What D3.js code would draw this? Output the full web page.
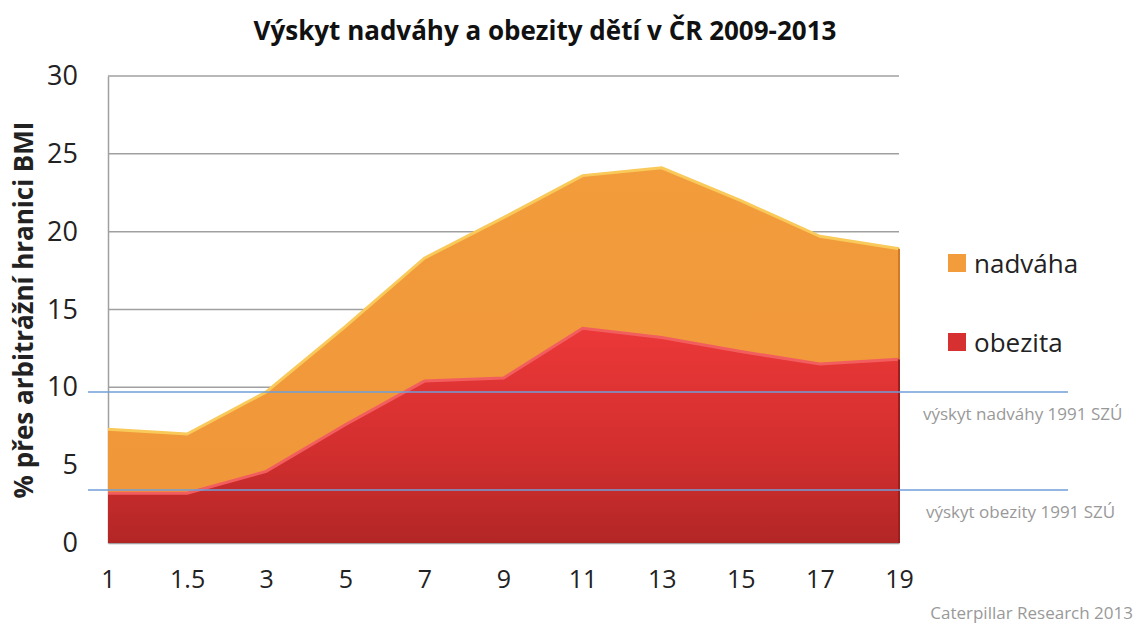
<!DOCTYPE html>
<html>
<head>
<meta charset="utf-8">
<script src="https://cdn.jsdelivr.net/npm/d3@7"></script>
<style>
  body { margin: 0; background: #fff; }
  svg { font-family: "Open Sans", "Noto Sans", sans-serif; }
</style>
</head>
<body>
<div id="chart"></div>
<script>
var w = 1139;
var h = 624;

// data
var ages = ['1', '1.5', '3', '5', '7', '9', '11', '13', '15', '17', '19'];
var nadvaha = [7.3, 7.0, 9.7, 13.9, 18.3, 20.9, 23.6, 24.1, 22.0, 19.7, 18.9];
var obezita = [3.2, 3.2, 4.6, 7.6, 10.4, 10.6, 13.8, 13.2, 12.3, 11.5, 11.8];
var yTicks = [0, 5, 10, 15, 20, 25, 30];
var refNames = ['výskyt nadváhy 1991 SZÚ', 'výskyt obezity 1991 SZÚ'];
var refValues = [9.7, 3.4];
var seriesNames = ['nadváha', 'obezita'];

var pLeft = 108, pRight = 899, pTop = 76, pBottom = 543;

var svg = d3.select('#chart')
    .append('svg')
    .attr('width', w)
    .attr('height', h);

var defs = svg.append('defs');
var gOr = defs.append('linearGradient').attr('id', 'gOr').attr('x1', 0).attr('y1', 0).attr('x2', 0).attr('y2', 1);
gOr.append('stop').attr('offset', '0%').attr('stop-color', '#f29c3c');
gOr.append('stop').attr('offset', '100%').attr('stop-color', '#f0963a');
var gRed = defs.append('linearGradient').attr('id', 'gRed').attr('x1', 0).attr('y1', 0).attr('x2', 0).attr('y2', 1);
gRed.append('stop').attr('offset', '0%').attr('stop-color', '#ec3838');
gRed.append('stop').attr('offset', '55%').attr('stop-color', '#d42f2f');
gRed.append('stop').attr('offset', '100%').attr('stop-color', '#b32626');

var x = d3.scalePoint()
    .domain(ages)
    .range([pLeft, pRight]);

var y = d3.scaleLinear()
    .domain([0, 30])
    .range([pBottom, pTop]);

// title
svg.append('text')
    .attr('x', 545)
    .attr('y', 40)
    .attr('text-anchor', 'middle')
    .attr('font-size', 26)
    .attr('font-weight', 'bold')
    .attr('fill', '#111')
    .text('Výskyt nadváhy a obezity dětí v ČR 2009-2013');

// grid lines
svg.append('g')
    .selectAll('line')
    .data(yTicks.slice(1))
    .enter()
    .append('line')
    .attr('x1', pLeft)
    .attr('x2', pRight)
    .attr('y1', function(d) { return y(d); })
    .attr('y2', function(d) { return y(d); })
    .attr('stroke', '#a0a0a0')
    .attr('stroke-width', 1.5);

// y axis
var yAxis = d3.axisLeft(y).tickValues(yTicks).tickSize(0).tickPadding(30);
var ya = svg.append('g')
    .attr('transform', 'translate(' + pLeft + ',0)')
    .call(yAxis);
ya.select('.domain').attr('stroke', '#a0a0a0').attr('stroke-width', 1.5);
ya.selectAll('text')
    .attr('font-size', 27)
    .attr('fill', '#222')
    .attr('font-family', '"Open Sans", sans-serif');

// x axis
var xAxis = d3.axisBottom(x).tickSize(0).tickPadding(27);
var xa = svg.append('g')
    .attr('transform', 'translate(0,' + pBottom + ')')
    .call(xAxis);
xa.select('.domain').attr('stroke', '#a0a0a0').attr('stroke-width', 1.5);
xa.selectAll('text')
    .attr('font-size', 25)
    .attr('fill', '#222')
    .attr('font-family', '"Open Sans", sans-serif');

// y axis title
svg.append('text')
    .attr('transform', 'translate(33,' + 310 + ') rotate(-90)')
    .attr('text-anchor', 'middle')
    .attr('font-size', 26)
    .attr('font-weight', 'bold')
    .attr('fill', '#222')
    .text('% přes arbitrážní hranici BMI');

var area = d3.area()
    .x(function(d, i) { return x(ages[i]); })
    .y0(y(0))
    .y1(function(d) { return y(d); });

var topLine = d3.line()
    .x(function(d, i) { return x(ages[i]); })
    .y(function(d) { return y(d); });

// nadvaha area
svg.append('path')
    .datum(nadvaha)
    .attr('d', area)
    .attr('fill', 'url(#gOr)');
svg.append('path')
    .datum(nadvaha)
    .attr('d', topLine)
    .attr('fill', 'none')
    .attr('stroke', '#f9c95a')
    .attr('stroke-width', 3);

// obezita area
svg.append('path')
    .datum(obezita)
    .attr('d', area)
    .attr('fill', 'url(#gRed)');
svg.append('path')
    .datum(obezita)
    .attr('d', topLine)
    .attr('fill', 'none')
    .attr('stroke', '#f25e5e')
    .attr('stroke-width', 3);

// dark right edge
svg.append('line')
    .attr('x1', pRight)
    .attr('x2', pRight)
    .attr('y1', y(nadvaha[nadvaha.length - 1]))
    .attr('y2', y(obezita[obezita.length - 1]))
    .attr('stroke', '#d07a28')
    .attr('stroke-width', 2);
svg.append('line')
    .attr('x1', pRight)
    .attr('x2', pRight)
    .attr('y1', y(obezita[obezita.length - 1]))
    .attr('y2', pBottom)
    .attr('stroke', '#9c1f1f')
    .attr('stroke-width', 2);

// reference lines
svg.append('g')
    .selectAll('line')
    .data(refValues)
    .enter()
    .append('line')
    .attr('x1', 88)
    .attr('x2', 1068)
    .attr('y1', function(d) { return y(d); })
    .attr('y2', function(d) { return y(d); })
    .attr('stroke', '#6f9fd8')
    .attr('stroke-width', 1.5);

svg.append('g')
    .selectAll('text')
    .data(refNames)
    .enter()
    .append('text')
    .attr('x', function(d, i) { return i == 0 ? 923 : 926; })
    .attr('y', function(d, i) { return y(refValues[i]) + 28; })
    .attr('font-size', 17)
    .attr('fill', '#999')
    .text(function(d) { return d; });

// legend
var legColors = ['#f29c3c', '#d63030'];
var legY = [263, 342];
var leg = svg.append('g');
leg.selectAll('rect')
    .data(seriesNames)
    .enter()
    .append('rect')
    .attr('x', 948)
    .attr('y', function(d, i) { return legY[i] - 9; })
    .attr('width', 18)
    .attr('height', 18)
    .attr('fill', function(d, i) { return legColors[i]; });
leg.selectAll('text')
    .data(seriesNames)
    .enter()
    .append('text')
    .attr('x', 974)
    .attr('y', function(d, i) { return legY[i] + 10; })
    .attr('font-size', 26)
    .attr('fill', '#222')
    .text(function(d) { return d; });

// source
svg.append('text')
    .attr('x', 1133)
    .attr('y', 619)
    .attr('text-anchor', 'end')
    .attr('font-size', 17)
    .attr('fill', '#999')
    .text('Caterpillar Research 2013');
</script>
</body>
</html>
